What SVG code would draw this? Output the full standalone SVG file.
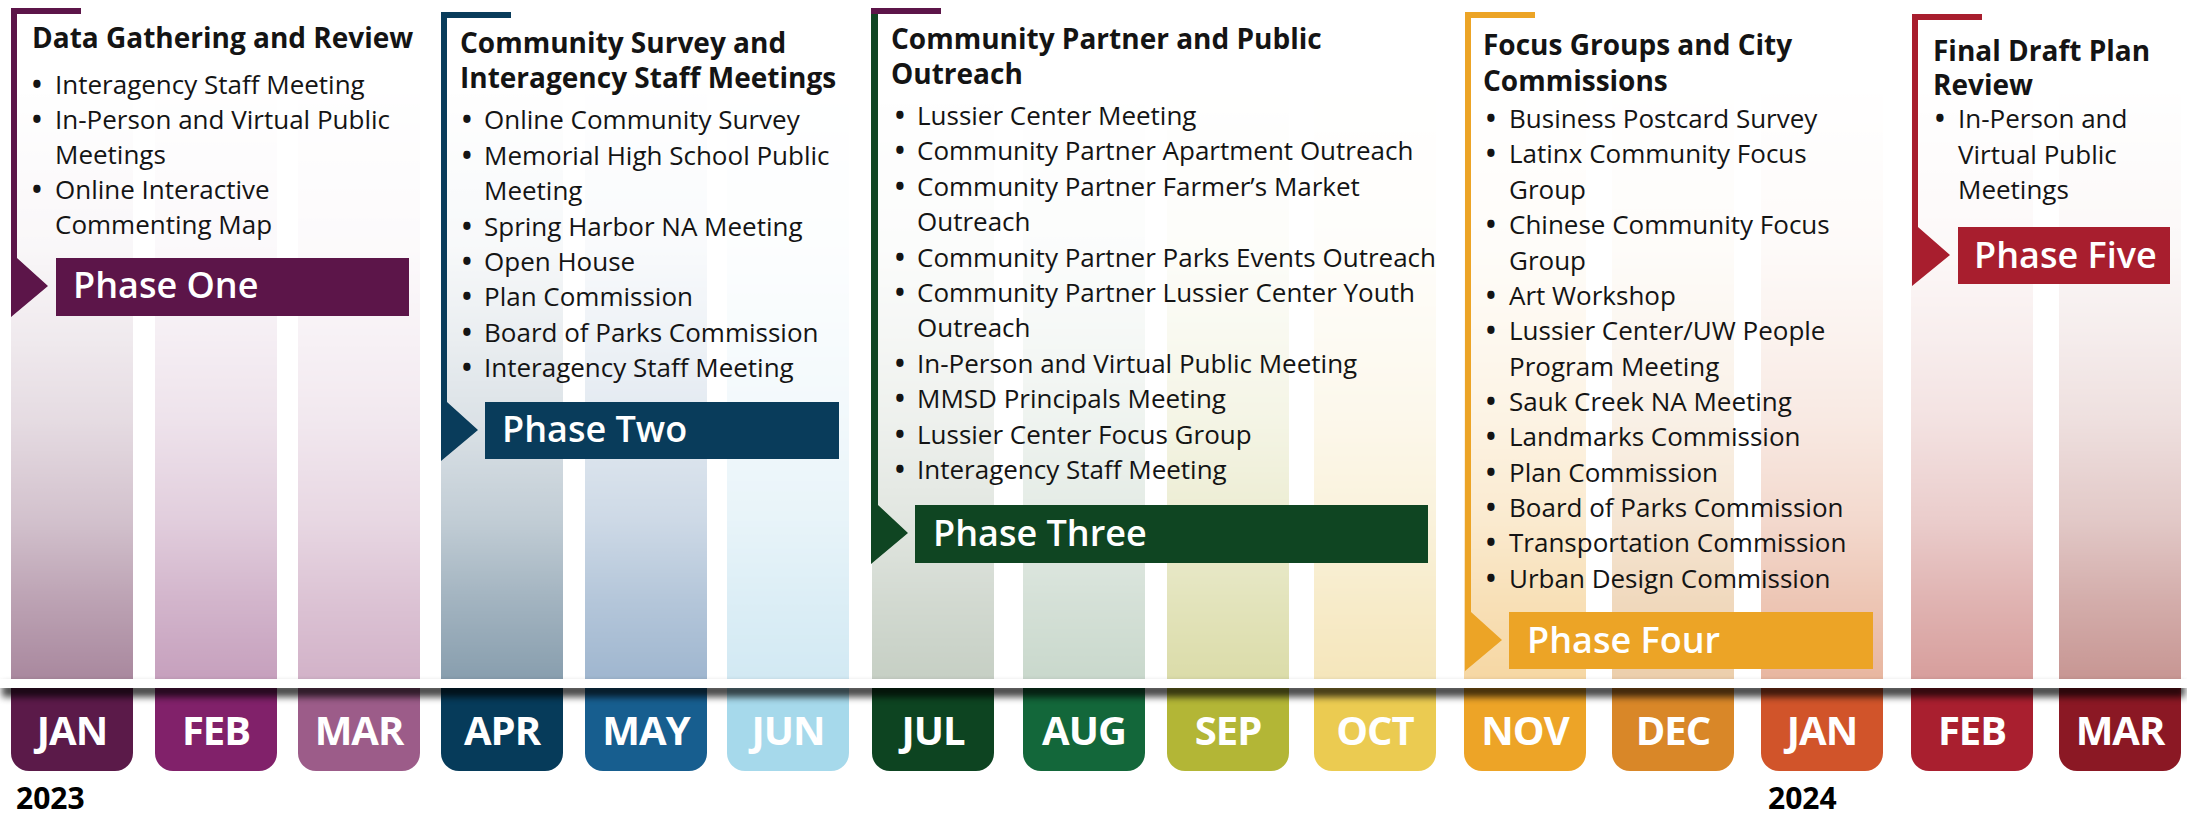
<svg xmlns="http://www.w3.org/2000/svg" width="2187" height="818" viewBox="0 0 2187 818">
  <style>
    text { font-family: "Open Sans", "Liberation Sans", sans-serif; }
    .h { font-weight: 700; font-size: 28px; fill: #141414; }
    .b { font-weight: 400; font-size: 26px; fill: #141414; }
    .dot { font-weight: 700; font-size: 26px; fill: #141414; text-anchor: middle; }
    .ph { font-weight: 600; font-size: 36px; fill: #ffffff; }
    .mo { font-weight: 700; font-size: 40px; fill: #ffffff; text-anchor: middle; letter-spacing: -1px; }
    .yr { font-weight: 700; font-size: 30px; fill: #000000; }
  </style>
  <defs>
    <!-- columns fade in from the top towards the timeline -->
    <linearGradient id="fadeGrad" gradientUnits="userSpaceOnUse" x1="0" y1="0" x2="0" y2="679">
      <stop offset="0" stop-color="#fff" stop-opacity="0"/>
      <stop offset="0.118" stop-color="#fff" stop-opacity="0"/>
      <stop offset="0.368" stop-color="#fff" stop-opacity="0.07"/>
      <stop offset="0.5" stop-color="#fff" stop-opacity="0.18"/>
      <stop offset="0.619" stop-color="#fff" stop-opacity="0.3"/>
      <stop offset="0.766" stop-color="#fff" stop-opacity="0.52"/>
      <stop offset="0.884" stop-color="#fff" stop-opacity="0.78"/>
      <stop offset="1" stop-color="#fff" stop-opacity="1"/>
    </linearGradient>
    <mask id="fadeMask" maskUnits="userSpaceOnUse" x="0" y="0" width="2187" height="680">
      <rect x="0" y="0" width="2187" height="680" fill="url(#fadeGrad)"/>
    </mask>
    <filter id="soft" x="-5%" y="-200%" width="110%" height="500%">
      <feGaussianBlur stdDeviation="3.5"/>
    </filter>
  </defs>

  <rect width="2187" height="818" fill="#ffffff"/>

  <!-- month columns -->
  <g id="columns" mask="url(#fadeMask)">
    <rect x="11" y="0" width="122" height="679" fill="#a9889e"/>
    <rect x="155" y="0" width="122" height="679" fill="#c6a0bd"/>
    <rect x="298" y="0" width="122" height="679" fill="#d2b2c8"/>
    <rect x="441" y="0" width="122" height="679" fill="#889eae"/>
    <rect x="585" y="0" width="122" height="679" fill="#9fb6cf"/>
    <rect x="727" y="0" width="122" height="679" fill="#d2e9f3"/>
    <rect x="872" y="0" width="122" height="679" fill="#c6cfc4"/>
    <rect x="1023" y="0" width="122" height="679" fill="#c9d8cc"/>
    <rect x="1167" y="0" width="122" height="679" fill="#dbdca9"/>
    <rect x="1314" y="0" width="122" height="679" fill="#f5e6bb"/>
    <rect x="1464" y="0" width="122" height="679" fill="#f6d7a3"/>
    <rect x="1612" y="0" width="122" height="679" fill="#ecceab"/>
    <rect x="1761" y="0" width="122" height="679" fill="#e8b6a0"/>
    <rect x="1911" y="0" width="122" height="679" fill="#d79e9c"/>
    <rect x="2059" y="0" width="122" height="679" fill="#c79693"/>
  </g>

  <!-- month tabs -->
  <g id="months">
    <g id="m-jan-2023"><path d="M11,688h122v65a18,18 0 0 1 -18,18h-86a18,18 0 0 1 -18,-18z" fill="#5b1a49"/><text class="mo" x="72" y="745">JAN</text></g>
    <g id="m-feb-2023"><path d="M155,688h122v65a18,18 0 0 1 -18,18h-86a18,18 0 0 1 -18,-18z" fill="#81216a"/><text class="mo" x="216" y="745">FEB</text></g>
    <g id="m-mar-2023"><path d="M298,688h122v65a18,18 0 0 1 -18,18h-86a18,18 0 0 1 -18,-18z" fill="#9c5c89"/><text class="mo" x="359" y="745">MAR</text></g>
    <g id="m-apr-2023"><path d="M441,688h122v65a18,18 0 0 1 -18,18h-86a18,18 0 0 1 -18,-18z" fill="#063b5a"/><text class="mo" x="502" y="745">APR</text></g>
    <g id="m-may-2023"><path d="M585,688h122v65a18,18 0 0 1 -18,18h-86a18,18 0 0 1 -18,-18z" fill="#175e8f"/><text class="mo" x="646" y="745">MAY</text></g>
    <g id="m-jun-2023"><path d="M727,688h122v65a18,18 0 0 1 -18,18h-86a18,18 0 0 1 -18,-18z" fill="#a6d9eb"/><text class="mo" x="788" y="745">JUN</text></g>
    <g id="m-jul-2023"><path d="M872,688h122v65a18,18 0 0 1 -18,18h-86a18,18 0 0 1 -18,-18z" fill="#0d4421"/><text class="mo" x="933" y="745">JUL</text></g>
    <g id="m-aug-2023"><path d="M1023,688h122v65a18,18 0 0 1 -18,18h-86a18,18 0 0 1 -18,-18z" fill="#13673a"/><text class="mo" x="1084" y="745">AUG</text></g>
    <g id="m-sep-2023"><path d="M1167,688h122v65a18,18 0 0 1 -18,18h-86a18,18 0 0 1 -18,-18z" fill="#b3b636"/><text class="mo" x="1228" y="745">SEP</text></g>
    <g id="m-oct-2023"><path d="M1314,688h122v65a18,18 0 0 1 -18,18h-86a18,18 0 0 1 -18,-18z" fill="#ebcb51"/><text class="mo" x="1375" y="745">OCT</text></g>
    <g id="m-nov-2023"><path d="M1464,688h122v65a18,18 0 0 1 -18,18h-86a18,18 0 0 1 -18,-18z" fill="#eda427"/><text class="mo" x="1525" y="745">NOV</text></g>
    <g id="m-dec-2023"><path d="M1612,688h122v65a18,18 0 0 1 -18,18h-86a18,18 0 0 1 -18,-18z" fill="#d98728"/><text class="mo" x="1673" y="745">DEC</text></g>
    <g id="m-jan-2024"><path d="M1761,688h122v65a18,18 0 0 1 -18,18h-86a18,18 0 0 1 -18,-18z" fill="#d1542a"/><text class="mo" x="1822" y="745">JAN</text></g>
    <g id="m-feb-2024"><path d="M1911,688h122v65a18,18 0 0 1 -18,18h-86a18,18 0 0 1 -18,-18z" fill="#a91f2f"/><text class="mo" x="1972" y="745">FEB</text></g>
    <g id="m-mar-2024"><path d="M2059,688h122v65a18,18 0 0 1 -18,18h-86a18,18 0 0 1 -18,-18z" fill="#8b1824"/><text class="mo" x="2120" y="745">MAR</text></g>
  </g>

  <!-- timeline rule with its shadow -->
  <g id="timeline">
    <rect x="2" y="684" width="2183" height="13" fill="#000" opacity="0.72" filter="url(#soft)"/>
    <rect x="0" y="679" width="2187" height="9" fill="#ffffff"/>
  </g>

  <g id="years">
    <text class="yr" x="16" y="809">2023</text>
    <text class="yr" x="1768" y="809">2024</text>
  </g>

  <!-- phase brackets leading into each phase bar -->
  <g id="connectors">
    <path d="M11,8H81V14H17V258L48,286L11,317Z" fill="#5c1549"/>
    <path d="M441,12H511V18H447V402L478,430L441,461Z" fill="#093c5b"/>
    <path d="M878,14V505L908,533L871,564V9H878Z" fill="#0f4522"/>
    <rect x="871" y="8" width="70" height="6" fill="#5c1549"/>
    <path d="M1465,12H1535V18H1471V612L1502,640L1465,671Z" fill="#eca426"/>
    <path d="M1912,14H1982V20H1918V227L1950,255L1912,286Z" fill="#a81e2e"/>
  </g>

  <g id="phase-one">
    <rect x="56" y="258" width="353" height="58" fill="#5c1549"/>
    <text class="ph" x="73" y="298">Phase One</text>
    <text class="h" x="32" y="48">Data Gathering and Review</text>
    <text class="dot" x="37" y="94">•</text><text class="b" x="55" y="94">Interagency Staff Meeting</text>
    <text class="dot" x="37" y="129">•</text><text class="b" x="55" y="129">In-Person and Virtual Public</text>
    <text class="b" x="55" y="164">Meetings</text>
    <text class="dot" x="37" y="199">•</text><text class="b" x="55" y="199">Online Interactive</text>
    <text class="b" x="55" y="234">Commenting Map</text>
  </g>

  <g id="phase-two">
    <rect x="485" y="402" width="354" height="57" fill="#093c5b"/>
    <text class="ph" x="502" y="442">Phase Two</text>
    <text class="h" x="460" y="53">Community Survey and</text>
    <text class="h" x="460" y="88">Interagency Staff Meetings</text>
    <text class="dot" x="467" y="129">•</text><text class="b" x="484" y="129">Online Community Survey</text>
    <text class="dot" x="467" y="165">•</text><text class="b" x="484" y="165">Memorial High School Public</text>
    <text class="b" x="484" y="200">Meeting</text>
    <text class="dot" x="467" y="236">•</text><text class="b" x="484" y="236">Spring Harbor NA Meeting</text>
    <text class="dot" x="467" y="271">•</text><text class="b" x="484" y="271">Open House</text>
    <text class="dot" x="467" y="306">•</text><text class="b" x="484" y="306">Plan Commission</text>
    <text class="dot" x="467" y="342">•</text><text class="b" x="484" y="342">Board of Parks Commission</text>
    <text class="dot" x="467" y="377">•</text><text class="b" x="484" y="377">Interagency Staff Meeting</text>
  </g>

  <g id="phase-three">
    <rect x="915" y="505" width="513" height="58" fill="#0f4522"/>
    <text class="ph" x="933" y="546">Phase Three</text>
    <text class="h" x="891" y="49">Community Partner and Public</text>
    <text class="h" x="891" y="84">Outreach</text>
    <text class="dot" x="900" y="125">•</text><text class="b" x="917" y="125">Lussier Center Meeting</text>
    <text class="dot" x="900" y="160">•</text><text class="b" x="917" y="160">Community Partner Apartment Outreach</text>
    <text class="dot" x="900" y="196">•</text><text class="b" x="917" y="196">Community Partner Farmer’s Market</text>
    <text class="b" x="917" y="231">Outreach</text>
    <text class="dot" x="900" y="267">•</text><text class="b" x="917" y="267">Community Partner Parks Events Outreach</text>
    <text class="dot" x="900" y="302">•</text><text class="b" x="917" y="302">Community Partner Lussier Center Youth</text>
    <text class="b" x="917" y="337">Outreach</text>
    <text class="dot" x="900" y="373">•</text><text class="b" x="917" y="373">In-Person and Virtual Public Meeting</text>
    <text class="dot" x="900" y="408">•</text><text class="b" x="917" y="408">MMSD Principals Meeting</text>
    <text class="dot" x="900" y="444">•</text><text class="b" x="917" y="444">Lussier Center Focus Group</text>
    <text class="dot" x="900" y="479">•</text><text class="b" x="917" y="479">Interagency Staff Meeting</text>
  </g>

  <g id="phase-four">
    <rect x="1509" y="612" width="364" height="57" fill="#eca426"/>
    <text class="ph" x="1527" y="653">Phase Four</text>
    <text class="h" x="1483" y="55">Focus Groups and City</text>
    <text class="h" x="1483" y="91">Commissions</text>
    <text class="dot" x="1491" y="128">•</text><text class="b" x="1509" y="128">Business Postcard Survey</text>
    <text class="dot" x="1491" y="163">•</text><text class="b" x="1509" y="163">Latinx Community Focus</text>
    <text class="b" x="1509" y="199">Group</text>
    <text class="dot" x="1491" y="234">•</text><text class="b" x="1509" y="234">Chinese Community Focus</text>
    <text class="b" x="1509" y="270">Group</text>
    <text class="dot" x="1491" y="305">•</text><text class="b" x="1509" y="305">Art Workshop</text>
    <text class="dot" x="1491" y="340">•</text><text class="b" x="1509" y="340">Lussier Center/UW People</text>
    <text class="b" x="1509" y="376">Program Meeting</text>
    <text class="dot" x="1491" y="411">•</text><text class="b" x="1509" y="411">Sauk Creek NA Meeting</text>
    <text class="dot" x="1491" y="446">•</text><text class="b" x="1509" y="446">Landmarks Commission</text>
    <text class="dot" x="1491" y="482">•</text><text class="b" x="1509" y="482">Plan Commission</text>
    <text class="dot" x="1491" y="517">•</text><text class="b" x="1509" y="517">Board of Parks Commission</text>
    <text class="dot" x="1491" y="552">•</text><text class="b" x="1509" y="552">Transportation Commission</text>
    <text class="dot" x="1491" y="588">•</text><text class="b" x="1509" y="588">Urban Design Commission</text>
  </g>

  <g id="phase-five">
    <rect x="1958" y="227" width="212" height="57" fill="#a81e2e"/>
    <text class="ph" x="1974" y="268">Phase Five</text>
    <text class="h" x="1933" y="61"><tspan x="1933" y="61">Final Draft Plan</tspan><tspan x="1933" y="95">Review</tspan></text>
    <text class="dot" x="1940" y="128">•</text>
    <text class="b" x="1958" y="128"><tspan x="1958" y="128">In-Person and</tspan><tspan x="1958" y="164">Virtual Public</tspan><tspan x="1958" y="199">Meetings</tspan></text>
  </g>
</svg>
